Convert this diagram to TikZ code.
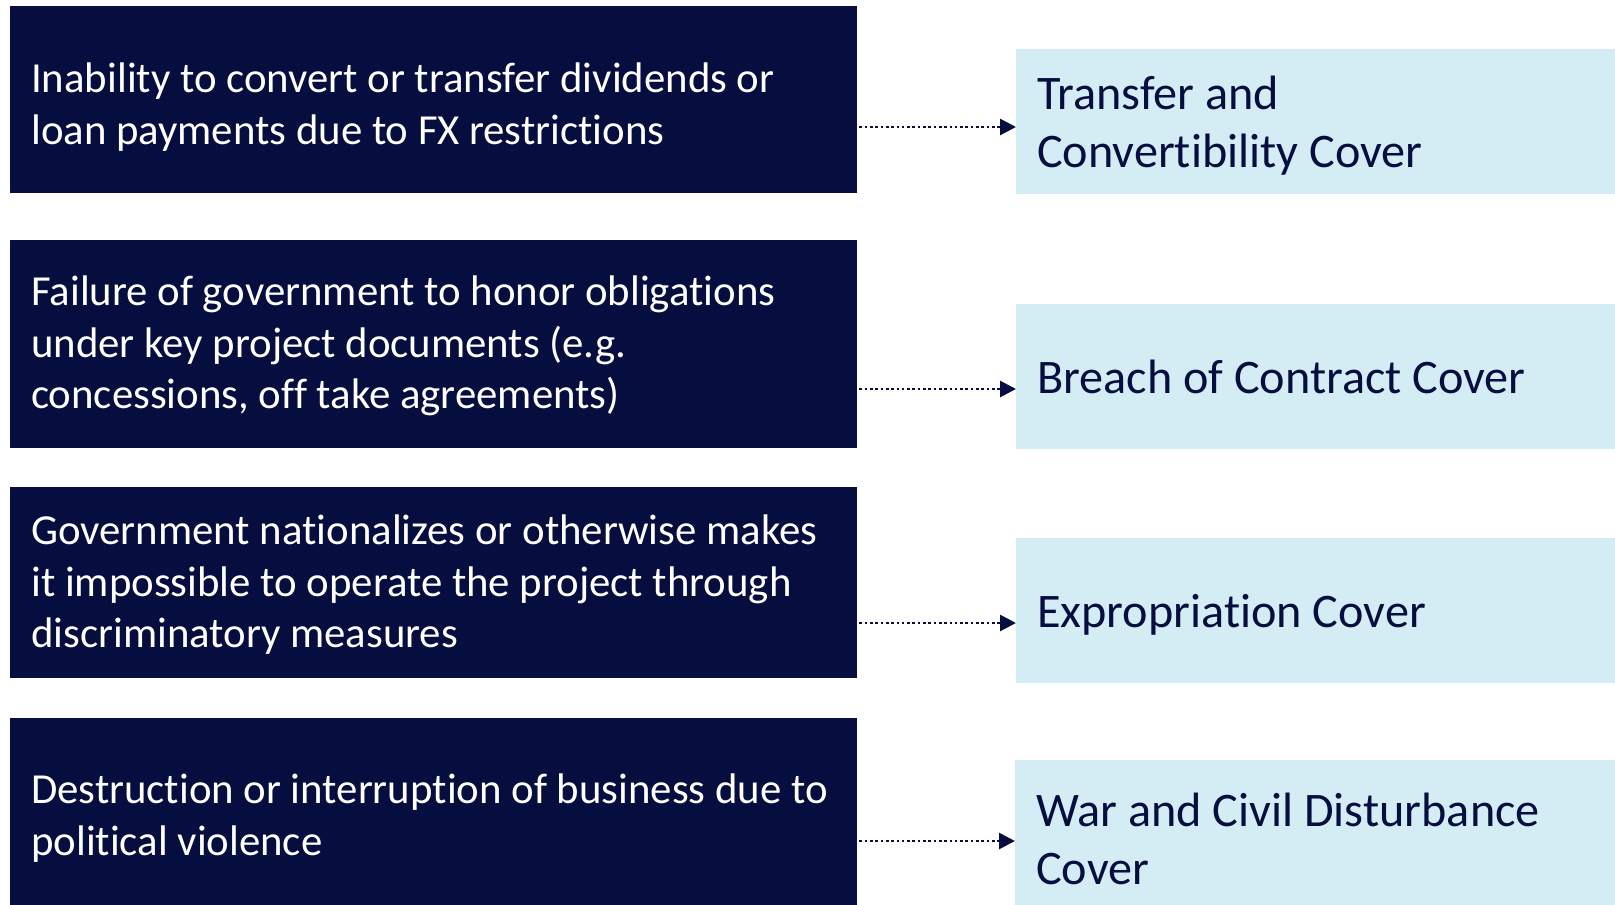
\documentclass[tikz,border=0pt]{standalone}
\usepackage{fontspec}
\setmainfont{Carlito}[Ligatures={NoCommon}]
\usetikzlibrary{arrows.meta}
\definecolor{navy}{HTML}{060D3F}
\definecolor{lightblue}{HTML}{D4ECF4}
\tikzset{
  riskbox/.style={fill=navy, anchor=north west, inner sep=0pt, minimum width=847pt},
  coverbox/.style={fill=lightblue, anchor=north west, inner sep=0pt, minimum width=600pt},
  risktext/.style={text=white, anchor=west, inner sep=0pt, text width=825pt, align=flush left,
    font=\fontsize{42.8}{51.5}\selectfont},
  covertext/.style={text=navy, anchor=west, inner sep=0pt, text width=575pt, align=flush left,
    font=\fontsize{48.2}{58}\selectfont},
  arr/.style={navy, line width=2.8pt, dash pattern=on 2.6pt off 2.7pt,
    -{Triangle[length=16pt,width=16pt]}, shorten <=2pt}
}
\begin{document}
\begin{tikzpicture}[x=1pt,y=-1pt]
\useasboundingbox (0,0) rectangle (1615,905);
\clip (0,0) rectangle (1615,905);
\node[riskbox, minimum height=187pt] (l1) at (10,6) {};
\node[riskbox, minimum height=208pt] (l2) at (10,240) {};
\node[riskbox, minimum height=191pt] (l3) at (10,487) {};
\node[riskbox, minimum height=196pt] (l4) at (10,718) {};
\node[coverbox, minimum height=145pt] (r1) at (1016,49) {};
\node[coverbox, minimum height=145pt] (r2) at (1016,304) {};
\node[coverbox, minimum height=145pt] (r3) at (1016,538) {};
\node[coverbox, minimum height=157pt] (r4) at (1015,760) {};
\node[risktext, yshift=-7.5pt] (l1t) at ([xshift=21pt]l1.west) {Inability to convert or transfer dividends or\\loan payments due to FX restrictions};
\node[risktext, yshift=-2pt] (l2t) at ([xshift=21pt]l2.west) {Failure of government to honor obligations\\under key project documents (e.g.\\concessions, off take agreements)};
\node[risktext, yshift=-2pt] (l3t) at ([xshift=21pt]l3.west) {Government nationalizes or otherwise makes\\it impossible to operate the project through\\discriminatory measures};
\node[risktext, yshift=-2pt] (l4t) at ([xshift=21pt]l4.west) {Destruction or interruption of business due to\\political violence};
\node[covertext, yshift=-4pt] (r1t) at ([xshift=21pt]r1.west) {Transfer and\\Convertibility Cover};
\node[covertext] (r2t) at ([xshift=21pt]r2.west) {Breach of Contract Cover};
\node[covertext, yshift=-4pt] (r3t) at ([xshift=21pt]r3.west) {Expropriation Cover};
\node[covertext] (r4t) at ([xshift=21pt]r4.west) {War and Civil Disturbance\\Cover};
\coordinate (a1) at (0,127);
\coordinate (a2) at (0,389);
\coordinate (a3) at (0,623);
\coordinate (a4) at (0,841);
\draw[arr] (l1.east |- a1) -- (r1.west |- a1);
\draw[arr] (l2.east |- a2) -- (r2.west |- a2);
\draw[arr] (l3.east |- a3) -- (r3.west |- a3);
\draw[arr] (l4.east |- a4) -- (r4.west |- a4);
\end{tikzpicture}
\end{document}
